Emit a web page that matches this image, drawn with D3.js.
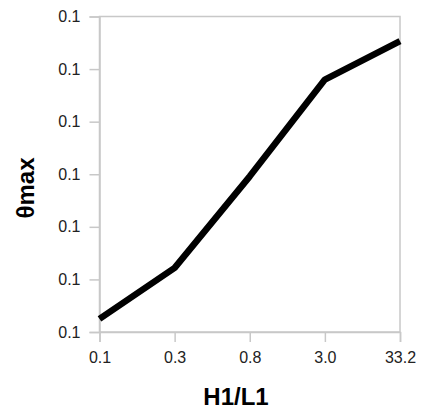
<!DOCTYPE html>
<html>
<head>
<meta charset="utf-8">
<script src="https://cdn.jsdelivr.net/npm/d3@7"></script>
<style>
  body { margin: 0; background: #fff; }
  svg { display: block; font-family: "Liberation Sans", Arial, sans-serif; }
</style>
</head>
<body>
<script>
(function () {
  'use strict';

  var categories = ['0.1', '0.3', '0.8', '3.0', '33.2'];
  var thetaMax = [0.10025, 0.10122, 0.10296, 0.10480, 0.10553];
  var yTicks = [0.100, 0.101, 0.102, 0.103, 0.104, 0.105, 0.106];

  var width = 421,
    height = 412,
    margin = { top: 16.5, right: 21, bottom: 80, left: 99.5 };

  var svg = d3.select('body')
    .append('svg')
    .attr('width', width)
    .attr('height', height);

  var x = d3.scalePoint()
    .domain(categories)
    .range([margin.left, width - margin.right]);

  var y = d3.scaleLinear()
    .domain([0.100, 0.106])
    .range([height - margin.bottom, margin.top]);

  // frame
  svg.append('rect')
    .attr('x', margin.left)
    .attr('y', margin.top)
    .attr('width', width - margin.right - margin.left)
    .attr('height', height - margin.bottom - margin.top)
    .attr('fill', 'none')
    .attr('stroke', '#c8c8c8')
    .attr('stroke-width', 1.5);

  var xAxis = svg.append('g')
    .attr('transform', 'translate(0,' + (height - margin.bottom) + ')')
    .call(d3.axisBottom(x).tickSize(10).tickPadding(10));

  var yAxis = svg.append('g')
    .attr('transform', 'translate(' + margin.left + ',0)')
    .call(d3.axisLeft(y).tickValues(yTicks).tickFormat(d3.format('.1f')).tickSize(10).tickPadding(9));

  [xAxis, yAxis].forEach(function (g) {
    g.select('.domain').attr('stroke', '#c8c8c8').attr('stroke-width', 1.5);
    g.selectAll('.tick line').attr('stroke', '#c8c8c8').attr('stroke-width', 1.5);
    g.selectAll('.tick text')
      .attr('fill', '#222')
      .style('font-size', '16px')
      .style('font-family', '"Liberation Sans", Arial, sans-serif');
  });

  var line = d3.line()
    .x(function (d, i) { return x(categories[i]); })
    .y(function (d) { return y(d); });

  svg.append('path')
    .datum(thetaMax)
    .attr('d', line)
    .attr('fill', 'none')
    .attr('stroke', '#000')
    .attr('stroke-width', 6.5)
    .attr('stroke-linejoin', 'round');

  svg.append('text')
    .attr('x', 236)
    .attr('y', 405)
    .attr('text-anchor', 'middle')
    .style('font-size', '24px')
    .style('font-weight', 'bold')
    .text('H1/L1');

  svg.append('text')
    .attr('transform', 'translate(34,188) rotate(-90)')
    .attr('text-anchor', 'middle')
    .style('font-size', '24px')
    .style('font-weight', 'bold')
    .text('θmax');
}());
</script>
</body>
</html>
